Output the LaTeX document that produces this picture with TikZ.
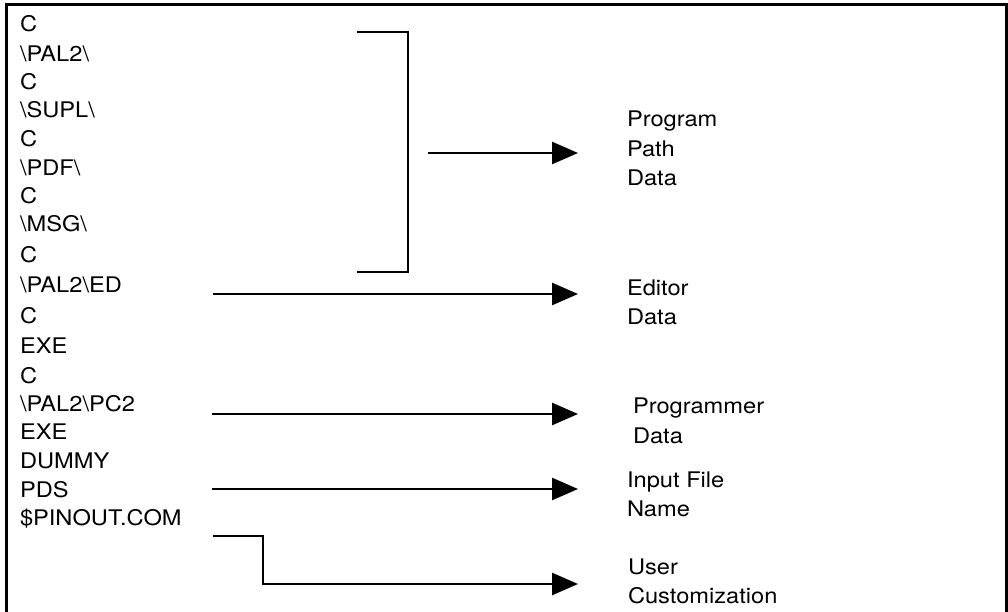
\documentclass[tikz,border=0pt]{standalone}
\usepackage{fontspec}
\setmainfont{TeX Gyre Heros}[FakeStretch=1.1]
\usetikzlibrary{arrows.meta}

\tikzset{
  lbl/.style={anchor=base west, inner sep=0pt, outer sep=0pt,
              font=\fontsize{21.5}{29.5}\selectfont},
  frame/.style={line width=3pt},
  brace/.style={line width=2.4pt},
  flow/.style={line width=2.6pt, -{Triangle[length=26pt,width=22pt]}},
  feed/.style={line width=2.6pt}
}
\newcommand{\bs}{\textbackslash}

\begin{document}
\begin{tikzpicture}[x=1pt, y=-1pt]
  \useasboundingbox (0,0) rectangle (1008,612);
  \fill[white] (0,0) rectangle (1008,612);

  % open frame: left, top and right sides
  \draw[frame] (6,612) -- (6,5) -- (1006,5) -- (1006,612);

  % left column: path and file name entries
  \node[lbl] (l1)  at (20,32)  {C};
  \node[lbl] (l2)  at (20,62)  {\bs PAL2\bs};
  \node[lbl] (l3)  at (20,90)  {C};
  \node[lbl] (l4)  at (20,118) {\bs SUPL\bs};
  \node[lbl] (l5)  at (20,147) {C};
  \node[lbl] (l6)  at (20,176) {\bs PDF\bs};
  \node[lbl] (l7)  at (20,204) {C};
  \node[lbl] (l8)  at (20,232) {\bs MSG\bs};
  \node[lbl] (l9)  at (20,262) {C};
  \node[lbl] (l10) at (20,292) {\bs PAL2\bs ED};
  \node[lbl] (l11) at (20,323) {C};
  \node[lbl] (l12) at (20,353) {EXE};
  \node[lbl] (l13) at (20,383) {C};
  \node[lbl] (l14) at (20,411) {\bs PAL2\bs PC2};
  \node[lbl] (l15) at (20,439) {EXE};
  \node[lbl] (l16) at (20,468) {DUMMY};
  \node[lbl] (l17) at (20,497) {PDS};
  \node[lbl] (l18) at (20,525) {\$PINOUT.COM};

  % right column: meaning of each group
  \node[lbl] (pp1) at (627,127) {Program};
  \node[lbl] (pp2) at (627,157) {Path};
  \node[lbl] (pp3) at (627,186) {Data};
  \node[lbl] (ed1) at (627,295) {Editor};
  \node[lbl] (ed2) at (627,324) {Data};
  \node[lbl] (pg1) at (633,413) {Programmer};
  \node[lbl] (pg2) at (633,443) {Data};
  \node[lbl] (in1) at (627,487) {Input File};
  \node[lbl] (in2) at (627,516) {Name};
  \node[lbl] (us1) at (628,574) {User};
  \node[lbl] (us2) at (628,603) {Customization};

  % connector end points
  \coordinate (brTop)  at (357,32);
  \coordinate (brBot)  at (357,272);
  \coordinate (brX)    at (408,0);
  \coordinate (ppFrom) at (428,153);
  \coordinate (ppTo)   at (578,153);
  \coordinate (edFrom) at (213,294);
  \coordinate (edTo)   at (578,294);
  \coordinate (pgFrom) at (212,414);
  \coordinate (pgTo)   at (578,414);
  \coordinate (inFrom) at (212,489);
  \coordinate (inTo)   at (578,489);
  \coordinate (usFrom) at (213,536);
  \coordinate (usStep) at (263,536);
  \coordinate (usTo)   at (578,584);

  % bracket grouping the program path entries
  \draw[brace] (brTop) -- (brTop -| brX) -- (brBot -| brX) -- (brBot);

  % arrows
  \draw[flow] (ppFrom) -- (ppTo);
  \draw[flow] (edFrom) -- (edTo);
  \draw[flow] (pgFrom) -- (pgTo);
  \draw[flow] (inFrom) -- (inTo);
  \draw[flow] (usFrom) -- (usStep) -- (usStep |- usTo) -- (usTo);
\end{tikzpicture}
\end{document}
